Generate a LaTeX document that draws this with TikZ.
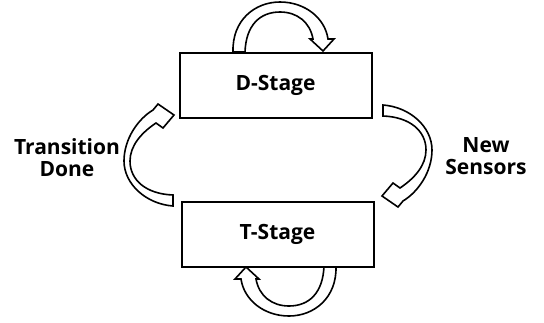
\documentclass[tikz,border=0pt]{standalone}
\usepackage{fontspec}
\setmainfont{Open Sans}
\begin{document}
\begin{tikzpicture}[x=1pt,y=-1pt,
  stagebox/.style={draw=black, line width=2pt, fill=white,
    minimum width=192pt, minimum height=65pt, inner sep=0pt,
    font=\fontsize{21}{26}\selectfont\bfseries},
  sidelabel/.style={font=\fontsize{21}{22}\selectfont\bfseries,
    align=center, inner sep=0pt},
  blockarrow/.style={draw=black, line width=1.6pt, fill=white, line join=miter}]
\useasboundingbox (0,0) rectangle (544,322);

% loop above D-Stage
\path[blockarrow] (233,52) .. controls (232,20) and (255,2) .. (280,2)
  .. controls (305,2) and (325,18) .. (328,39)
  -- (334,39) -- (323,51) -- (310,39) -- (313,39)
  .. controls (310,22) and (297,12) .. (280,12)
  .. controls (260,12) and (246,25) .. (245,52) -- cycle;

% loop below T-Stage (same shape turned half round)
\begin{scope}[rotate around={180:(284.5,159)}]
\path[blockarrow] (233,52) .. controls (232,20) and (255,2) .. (280,2)
  .. controls (305,2) and (325,18) .. (328,39)
  -- (334,39) -- (323,51) -- (310,39) -- (313,39)
  .. controls (310,22) and (297,12) .. (280,12)
  .. controls (260,12) and (246,25) .. (245,52) -- cycle;
\end{scope}

% D-Stage to T-Stage, on the right
\path[blockarrow] (383,105) .. controls (410,107) and (432,127) .. (432,150)
  .. controls (432,172) and (418,192) .. (403,201)
  -- (398,207) -- (382,196) -- (393,183) -- (400,188)
  .. controls (415,178) and (426,165) .. (426,150)
  .. controls (426,131) and (410,117) .. (383,116) -- cycle;

% T-Stage back to D-Stage, on the left
\begin{scope}[rotate around={180:(278,155.5)}]
\path[blockarrow] (383,105) .. controls (410,107) and (432,127) .. (432,150)
  .. controls (432,172) and (418,192) .. (403,201)
  -- (398,207) -- (382,196) -- (393,183) -- (400,188)
  .. controls (415,178) and (426,165) .. (426,150)
  .. controls (426,131) and (410,117) .. (383,116) -- cycle;
\end{scope}

\node[stagebox] (D) at (275.5,85) {D-Stage};
\node[stagebox] (T) at (277.5,234) {T-Stage};

\node[sidelabel] (done) at (67,158) {Transition\\Done};
\node[sidelabel] (sensors) at (486,156) {New\\Sensors};
\end{tikzpicture}
\end{document}
